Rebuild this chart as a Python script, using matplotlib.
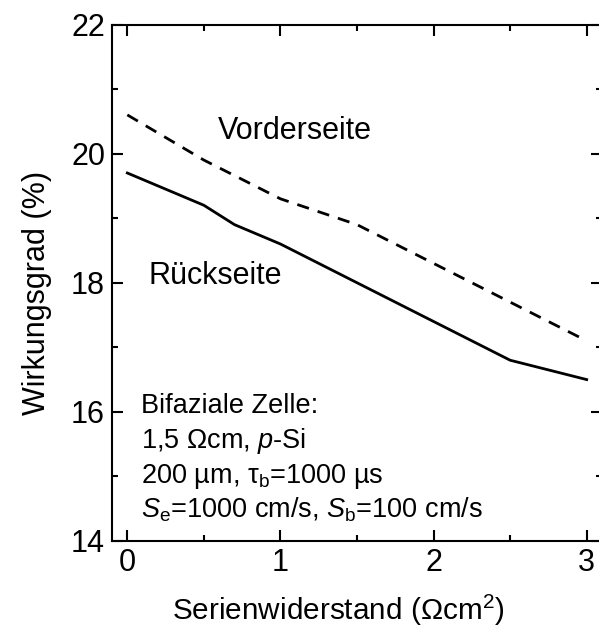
import matplotlib
matplotlib.use("Agg")
import matplotlib.pyplot as plt
from matplotlib.ticker import MultipleLocator

plt.rcParams['font.family'] = ['Liberation Sans', 'DejaVu Sans']
plt.rcParams['mathtext.fontset'] = 'custom'
plt.rcParams['mathtext.rm'] = 'Liberation Sans'
plt.rcParams['mathtext.it'] = 'Liberation Sans:italic'

# Wirkungsgrad ueber Serienwiderstand
rs_vorder = [0, 0.5, 1.0, 1.5, 2.0, 2.5, 3.0]
eta_vorder = [20.6, 19.9, 19.3, 18.9, 18.3, 17.7, 17.1]
rs_rueck = [0, 0.5, 0.7, 1.0, 1.5, 2.0, 2.5, 3.0]
eta_rueck = [19.7, 19.2, 18.9, 18.6, 18.0, 17.4, 16.8, 16.5]

fig = plt.figure(figsize=(5.99, 6.3), dpi=100)
ax = fig.add_axes([0.187, 0.1413, 0.818, 0.8198])

ax.plot(rs_vorder, eta_vorder, color='black', lw=2.0, linestyle=(0, (4.4, 3.3)))
ax.plot(rs_rueck, eta_rueck, color='black', lw=2.0)

ax.set_xlim(-0.1, 3.1)
ax.set_ylim(14, 22)
ax.xaxis.set_major_locator(MultipleLocator(1))
ax.xaxis.set_minor_locator(MultipleLocator(0.5))
ax.yaxis.set_major_locator(MultipleLocator(2))
ax.yaxis.set_minor_locator(MultipleLocator(1))
ax.tick_params(which='both', direction='in', top=True, right=True, width=1.5,
               labelsize=22, pad=5)
ax.tick_params(which='major', length=8)
ax.tick_params(which='minor', length=4.5)
for s in ax.spines.values():
    s.set_linewidth(1.5)

ax.set_xlabel('Serienwiderstand (Ωcm$^2$)', fontsize=21.4)
ax.xaxis.set_label_coords(0.461, -0.1)
ax.set_ylabel('Wirkungsgrad (%)', fontsize=22, labelpad=14)
ax.yaxis.label.set_y(0.48)

ax.text(0.59, 20.22, 'Vorderseite', fontsize=22, ha='left', va='baseline')
ax.text(0.14, 17.98, 'Rückseite', fontsize=22, ha='left', va='baseline')

info = ['Bifaziale Zelle:',
        '1,5 Ωcm, $\\mathit{p}$-Si',
        '200 µm, τ$_\\mathrm{b}$=1000 µs',
        '$\\mathit{S}_\\mathrm{e}$=1000 cm/s, $\\mathit{S}_\\mathrm{b}$=100 cm/s']
for i, line in enumerate(info):
    ax.text(0.088, 15.98 - i * 0.54, line, fontsize=19.5, ha='left', va='baseline')

fig.savefig('out.png', dpi=100)
